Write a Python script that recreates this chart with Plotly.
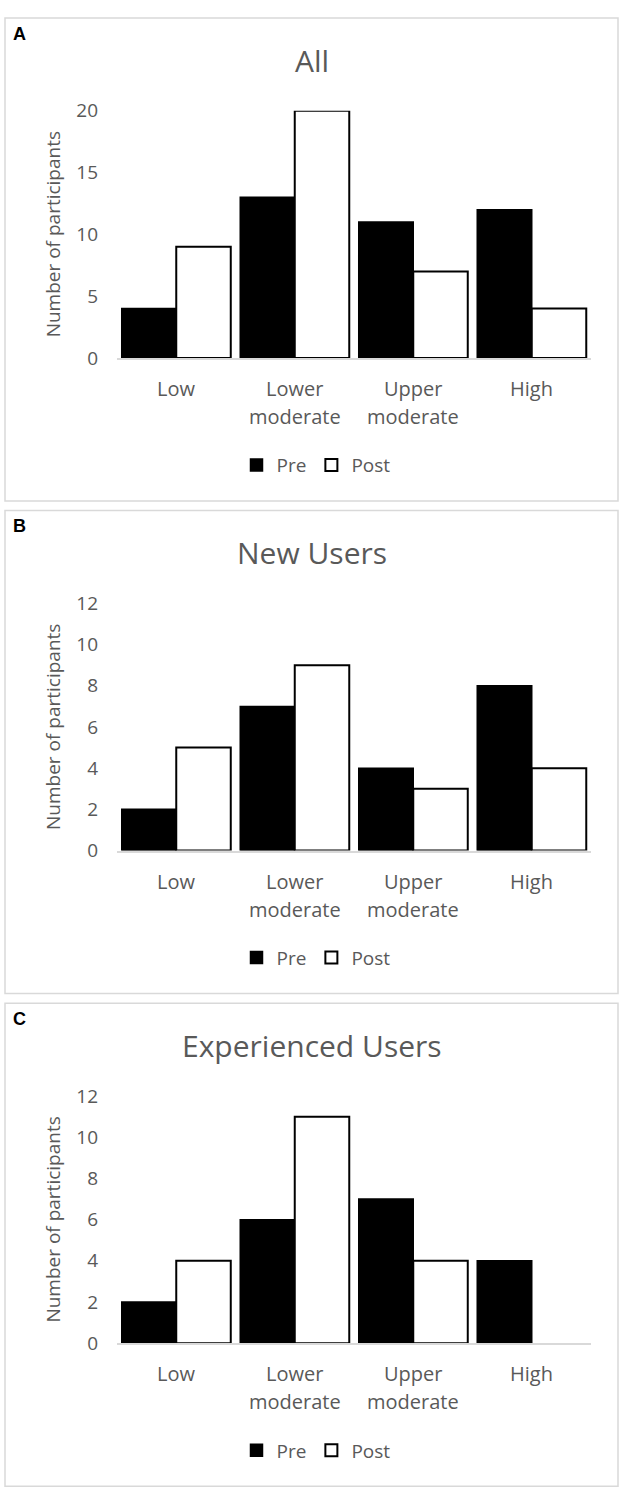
import plotly.graph_objects as go

# Categories and counts per panel
categories = ["Low", "Lower moderate", "Upper moderate", "High"]

panel_letters = ["A", "B", "C"]
panel_titles = ["All", "New Users", "Experienced Users"]

all_pre = [4, 13, 11, 12]
all_post = [9, 20, 7, 4]

new_pre = [2, 7, 4, 8]
new_post = [5, 9, 3, 4]

exp_pre = [2, 6, 7, 4]
exp_post = [4, 11, 4, 0]

y_max = [20, 12, 12]
y_step = [5, 2, 2]

W, H = 624, 1504
PANEL_STEP = 501.3
GRAY = "#595959"
FONT = "Open Sans"


def px_x(x):
    return x / W


def px_y(y):
    return 1 - y / H


fig = go.Figure()

series = [(all_pre, all_post), (new_pre, new_post), (exp_pre, exp_post)]
legend_names = ["legend", "legend2", "legend3"]

for i, (pre, post) in enumerate(series):
    off = i * PANEL_STEP
    sfx = "" if i == 0 else str(i + 1)
    xa, ya = "x" + sfx, "y" + sfx

    fig.add_trace(go.Bar(
        x=categories, y=pre, name="Pre", xaxis=xa, yaxis=ya,
        marker=dict(color="black", line=dict(color="black", width=1.5)),
        legend=legend_names[i]
    ))
    fig.add_trace(go.Bar(
        x=categories, y=post, name="Post", xaxis=xa, yaxis=ya,
        marker=dict(color="white",
                    line=dict(color="black", width=[2 if v > 0 else 0 for v in post])),
        legend=legend_names[i]
    ))

    fig.update_layout({
        "xaxis" + sfx: dict(
            domain=[px_x(117), px_x(591)], anchor=ya,
            range=[-0.5, 3.5], showticklabels=False, showgrid=False,
            showline=True, linecolor="#d9d9d9", linewidth=1.5, zeroline=False,
            fixedrange=True
        ),
        "yaxis" + sfx: dict(
            domain=[px_y(351 + off), px_y(99.5 + off)], anchor=xa,
            range=[0, y_max[i]], dtick=y_step[i], showgrid=False, zeroline=False,
            tickfont=dict(family=FONT, size=19, color=GRAY),
            ticklabelstandoff=18, fixedrange=True
        ),
        legend_names[i]: dict(
            orientation="h", x=px_x(316), xanchor="center",
            y=px_y(460 + off), yanchor="middle",
            font=dict(family=FONT, size=19, color=GRAY),
            bgcolor="rgba(0,0,0,0)"
        ),
    })

    # panel frame
    fig.add_shape(type="rect", xref="paper", yref="paper",
                  x0=px_x(5), x1=px_x(618), y0=px_y(496.5 + off), y1=px_y(5 + off),
                  line=dict(color="#d9d9d9", width=1.5), layer="below")

    # panel letter
    fig.add_annotation(text="<b>%s</b>" % panel_letters[i], xref="paper", yref="paper",
                       x=px_x(11), y=px_y(21 + off), xanchor="left", yanchor="middle",
                       showarrow=False, font=dict(family="Liberation Sans", size=18, color="black"))

    # chart title
    fig.add_annotation(text=panel_titles[i], xref="paper", yref="paper",
                       x=px_x(311.5), y=px_y(48 + off), xanchor="center", yanchor="middle",
                       showarrow=False, font=dict(family=FONT, size=30, color=GRAY))

    # y axis title
    fig.add_annotation(text="Number of participants", xref="paper", yref=ya + " domain",
                       x=px_x(53), y=0.5, xanchor="center", yanchor="middle", textangle=-90,
                       showarrow=False, font=dict(family=FONT, size=19, color=GRAY))

    # category labels, one annotation per line
    for cat in categories:
        for j, line in enumerate(cat.split(" ")):
            fig.add_annotation(text=line, xref=xa, yref="paper",
                               x=cat, y=px_y(382 + 28.7 * j + off),
                               xanchor="center", yanchor="middle", showarrow=False,
                               font=dict(family=FONT, size=20, color=GRAY))

fig.update_layout(
    width=W, height=H,
    margin=dict(l=0, r=0, t=0, b=0),
    paper_bgcolor="white", plot_bgcolor="white",
    barmode="group", bargap=0.08, bargroupgap=0,
    showlegend=True
)

# drop the default body margin so the figure sits at the window origin
fig.write_html("out.html", config={"displayModeBar": False},
               post_script="document.body.style.margin='0';")
